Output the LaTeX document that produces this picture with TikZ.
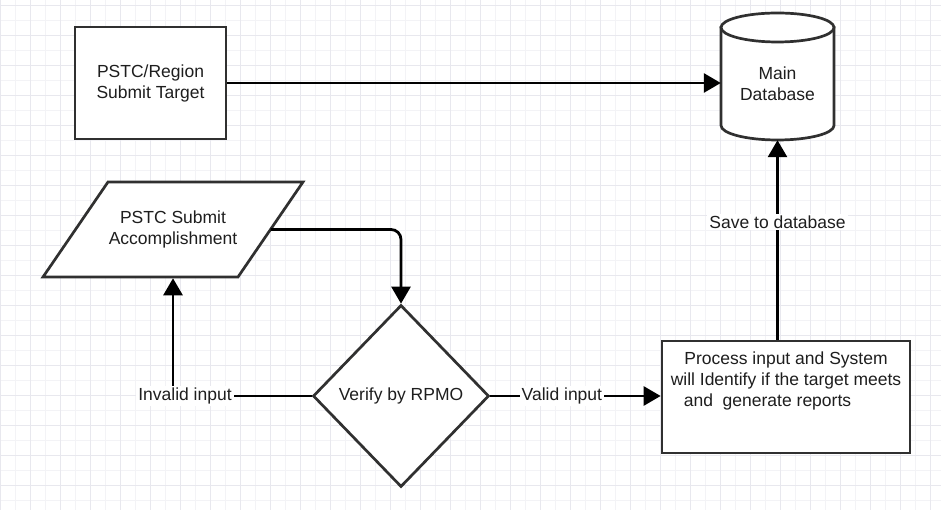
\documentclass[tikz,border=0pt]{standalone}
\usepackage{fontspec}
\setmainfont{Liberation Sans}
\usetikzlibrary{arrows.meta,positioning,calc,shapes.geometric}
\definecolor{edgegray}{HTML}{303030}
\definecolor{inkgray}{HTML}{1E1E1E}
\definecolor{gridmin}{HTML}{F3F3F6}
\definecolor{gridmaj}{HTML}{E8E8EE}
\tikzset{
  shp/.style={draw=edgegray, line width=2.7pt, fill=white, align=center,
    inner sep=0pt, text=inkgray, font=\fontsize{17.5}{21}\selectfont},
  procbox/.style={shp, rectangle},
  decide/.style={shp, diamond},
  lbltext/.style={align=center, inner sep=0pt, text=inkgray, font=\fontsize{17.5}{21}\selectfont},
  lbl/.style={lbltext, fill=white, inner sep=2pt},
  flow/.style={-{Triangle[length=17pt, width=19pt]}, line width=2.8pt, draw=black},
}

\begin{document}
\begin{tikzpicture}[x=1pt, y=1pt,
  outline/.style={draw=edgegray, line width=2.7pt, fill=white, line join=miter},
  dbbody/.style={lbltext, rectangle, minimum width=113pt, minimum height=112.5pt}]
  \useasboundingbox (0,0) rectangle (941,510);
  % grid paper
  \fill[white] (0,0) rectangle (941,510);
  \draw[gridmin, line width=0.8pt, step=15pt, yshift=10pt] (0,-10) grid (941,500);
  \draw[gridmaj, line width=0.9pt, step=30pt, yshift=25pt] (0,-25) grid (941,485);
  % top row: target entry and the store
  \node[procbox, minimum width=151pt, minimum height=112pt] (tgt) at (150.5,427) {PSTC/Region\\Submit Target};
  \coordinate (dbc) at (777.5,426.25);
  \filldraw[outline] ($(dbc)+(-56.5,56.25)$) -- ($(dbc)+(-56.5,-41.75)$)
    arc[start angle=180, end angle=360, x radius=56.5, y radius=14.5] -- ($(dbc)+(56.5,56.25)$) -- cycle;
  \filldraw[outline] ($(dbc)+(0,56.25)$) ellipse[x radius=56.5, y radius=14.5];
  \node[dbbody] (db) at (dbc) {Main\\Database};
  % bottom row: input, check, processing
  \coordinate (accc) at (173,280.5);
  \filldraw[outline] ($(accc)+(-65,47.5)$) -- ++(195,0) -- ++(-65,-95) -- ++(-195,0) -- cycle;
  \node[lbltext] (acc) at (accc) {PSTC Submit\\Accomplishment};
  \coordinate (accR) at ($(accc)+(97.5,0)$);
  \coordinate (accB) at ($(accc)+(0,-48.8)$);
  \node[decide, minimum width=176pt, minimum height=182pt,
    label={[lbltext]center:Verify by RPMO}] (chk) at (401,114) {};
  \node[procbox, minimum width=248pt, minimum height=112pt] (proc) at (786,113) {};
  \node[lbltext, anchor=north, yshift=-11.5pt] (proctxt) at (proc.north)
    {Process input and System\\will Identify if the target meets\\and\ \ generate reports\hspace*{37pt}};
  % connectors
  \draw[flow] (tgt) -- (tgt -| db.west);
  \draw[flow, rounded corners=10pt] (accR) -| (chk.north);
  \draw[flow] (chk.west) -| node[lbl, xshift=12pt] {Invalid input} (accB);
  \draw[flow] (chk.east) -- node[lbl, pos=0.42] {Valid input} (chk.east -| proc.west);
  \draw[flow] (proc.north -| db.south) -- node[lbl, pos=0.59] {Save to database} (db.south);
\end{tikzpicture}
\end{document}
